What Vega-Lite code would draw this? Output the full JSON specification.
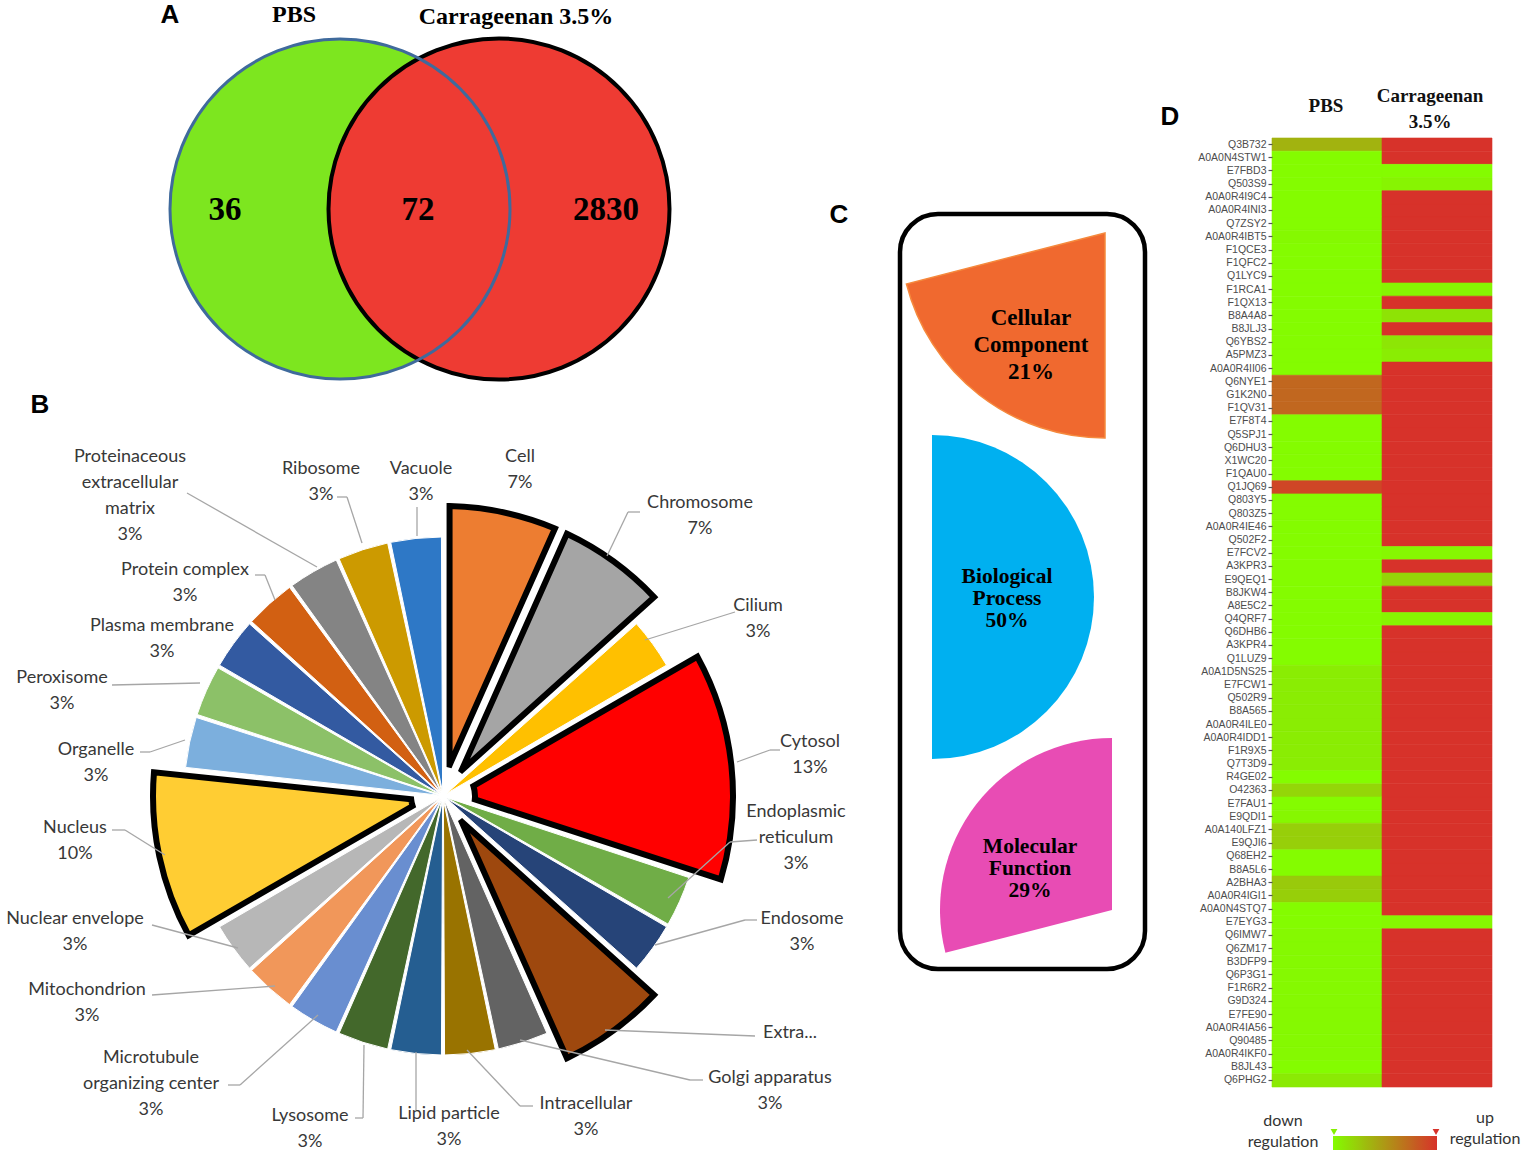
{
  "$schema": "https://vega.github.io/schema/vega-lite/v6.json",
  "padding": 0,
  "background": "white",
  "spacing": 0,
  "bounds": "flush",
  "config": {"view": {"stroke": null}},
  "resolve": {"scale": {"color": "independent"}, "legend": {"color": "independent"}},
  "hconcat": [
    {
      "width": 886,
      "height": 1161,
      "layer": [
        {
          "data": {"values": [{"set": "PBS", "x": 340, "y": 209}]},
          "mark": {"type": "point", "shape": "circle", "size": 115600, "filled": true, "fill": "#7de61f", "strokeWidth": 0, "opacity": 1},
          "encoding": {
            "x": {"field": "x", "type": "quantitative", "scale": {"domain": [0, 886], "nice": false, "zero": false}, "axis": null},
            "y": {"field": "y", "type": "quantitative", "scale": {"domain": [0, 1161], "nice": false, "zero": false, "reverse": true}, "axis": null}
          }
        },
        {
          "data": {"values": [{"set": "Carrageenan 3.5%", "x": 499, "y": 209}]},
          "mark": {"type": "point", "shape": "circle", "size": 116281, "filled": true, "fill": "#ee3b33", "stroke": "#000000", "strokeWidth": 4, "opacity": 1},
          "encoding": {
            "x": {"field": "x", "type": "quantitative"},
            "y": {"field": "y", "type": "quantitative"}
          }
        },
        {
          "data": {"values": [{"set": "PBS", "x": 340, "y": 209}]},
          "mark": {"type": "point", "shape": "circle", "size": 115600, "filled": false, "fillOpacity": 0, "stroke": "#3f6a9c", "strokeWidth": 3, "opacity": 1},
          "encoding": {
            "x": {"field": "x", "type": "quantitative"},
            "y": {"field": "y", "type": "quantitative"}
          }
        },
        {
          "data": {"values": [
            {"region": "PBS only", "n": 36, "x": 225, "y": 210},
            {"region": "Both", "n": 72, "x": 418, "y": 210},
            {"region": "Carrageenan 3.5% only", "n": 2830, "x": 606, "y": 210}
          ]},
          "mark": {"type": "text", "font": "Liberation Serif", "fontWeight": "bold", "fontSize": 33, "align": "center", "baseline": "middle", "color": "#000000"},
          "encoding": {
            "x": {"field": "x", "type": "quantitative"},
            "y": {"field": "y", "type": "quantitative"},
            "text": {"field": "n", "type": "quantitative", "format": "d"}
          }
        },
        {
          "data": {"values": [
            {"t": "PBS", "x": 294, "y": 15},
            {"t": "Carrageenan  3.5%", "x": 516, "y": 17}
          ]},
          "mark": {"type": "text", "font": "Liberation Serif", "fontWeight": "bold", "fontSize": 24, "align": "center", "baseline": "middle", "color": "#000000"},
          "encoding": {
            "x": {"field": "x", "type": "quantitative"},
            "y": {"field": "y", "type": "quantitative"},
            "text": {"field": "t", "type": "nominal"}
          }
        },
        {
          "data": {"values": [
            {"t": "A", "x": 170, "y": 15},
            {"t": "B", "x": 40, "y": 405}
          ]},
          "mark": {"type": "text", "font": "Liberation Sans", "fontWeight": "bold", "fontSize": 26, "align": "center", "baseline": "middle", "color": "#000000"},
          "encoding": {
            "x": {"field": "x", "type": "quantitative"},
            "y": {"field": "y", "type": "quantitative"},
            "text": {"field": "t", "type": "nominal"}
          }
        },
        {
          "data": {"name": "pie", "values": [
            {"order": 1, "category": "Cell", "count": 2, "exploded": true},
            {"order": 2, "category": "Chromosome", "count": 2, "exploded": true},
            {"order": 3, "category": "Cilium", "count": 1, "exploded": false},
            {"order": 4, "category": "Cytosol", "count": 4, "exploded": true},
            {"order": 5, "category": "Endoplasmic reticulum", "count": 1, "exploded": false},
            {"order": 6, "category": "Endosome", "count": 1, "exploded": false},
            {"order": 7, "category": "Extra...", "count": 2, "exploded": true},
            {"order": 8, "category": "Golgi apparatus", "count": 1, "exploded": false},
            {"order": 9, "category": "Intracellular", "count": 1, "exploded": false},
            {"order": 10, "category": "Lipid particle", "count": 1, "exploded": false},
            {"order": 11, "category": "Lysosome", "count": 1, "exploded": false},
            {"order": 12, "category": "Microtubule organizing center", "count": 1, "exploded": false},
            {"order": 13, "category": "Mitochondrion", "count": 1, "exploded": false},
            {"order": 14, "category": "Nuclear envelope", "count": 1, "exploded": false},
            {"order": 15, "category": "Nucleus", "count": 3, "exploded": true},
            {"order": 16, "category": "Organelle", "count": 1, "exploded": false},
            {"order": 17, "category": "Peroxisome", "count": 1, "exploded": false},
            {"order": 18, "category": "Plasma membrane", "count": 1, "exploded": false},
            {"order": 19, "category": "Protein complex", "count": 1, "exploded": false},
            {"order": 20, "category": "Proteinaceous extracellular matrix", "count": 1, "exploded": false},
            {"order": 21, "category": "Ribosome", "count": 1, "exploded": false},
            {"order": 22, "category": "Vacuole", "count": 1, "exploded": false}
          ]},
          "transform": [
            {"stack": "count", "groupby": [], "sort": [{"field": "order", "order": "ascending"}], "as": ["a0", "a1"]}
          ],
          "layer": [
            {
              "transform": [{"filter": "!datum.exploded"}],
              "mark": {"type": "arc", "radius": 259, "radius2": 4, "padAngle": 0.012, "stroke": "#ffffff", "strokeWidth": 1},
              "encoding": {
                "x": {"datum": 443, "type": "quantitative", "stack": null},
                "y": {"datum": 796, "type": "quantitative", "stack": null},
                "theta": {"field": "a0", "type": "quantitative", "stack": null, "scale": {"domain": [0, 30], "range": [0, 6.283185307]}},
                "theta2": {"field": "a1"},
                "color": {"field": "category", "type": "nominal", "legend": null, "scale": {
                  "domain": ["Cell", "Chromosome", "Cilium", "Cytosol", "Endoplasmic reticulum", "Endosome", "Extra...", "Golgi apparatus", "Intracellular", "Lipid particle", "Lysosome", "Microtubule organizing center", "Mitochondrion", "Nuclear envelope", "Nucleus", "Organelle", "Peroxisome", "Plasma membrane", "Protein complex", "Proteinaceous extracellular matrix", "Ribosome", "Vacuole"],
                  "range": ["#ed7d31", "#a5a5a5", "#ffc000", "#ff0000", "#70ad47", "#264478", "#9e480e", "#636363", "#997300", "#255e91", "#43682b", "#698ed0", "#f1975a", "#b7b7b7", "#ffcd33", "#7cafdd", "#8cc168", "#335aa1", "#d26012", "#848484", "#cc9a00", "#2e78c6"]
                }}
              }
            },
            {
              "transform": [{"filter": "datum.exploded"}],
              "mark": {"type": "arc", "radius": 290, "radius2": 32, "padAngle": 0.045, "stroke": "#000000", "strokeWidth": 6, "strokeJoin": "miter"},
              "encoding": {
                "x": {"datum": 443, "type": "quantitative", "stack": null},
                "y": {"datum": 796, "type": "quantitative", "stack": null},
                "theta": {"field": "a0", "type": "quantitative", "stack": null, "scale": {"domain": [0, 30], "range": [0, 6.283185307]}},
                "theta2": {"field": "a1"},
                "color": {"field": "category", "type": "nominal", "legend": null}
              }
            }
          ]
        },
        {
          "data": {"values": [
            {"x": 187, "y": 493, "x2": 317, "y2": 567},
            {"x": 337, "y": 497, "x2": 347, "y2": 497},
            {"x": 347, "y": 497, "x2": 362, "y2": 543},
            {"x": 417, "y": 507, "x2": 417, "y2": 536},
            {"x": 640, "y": 512, "x2": 628, "y2": 512},
            {"x": 628, "y": 512, "x2": 607, "y2": 556},
            {"x": 735, "y": 612, "x2": 645, "y2": 640},
            {"x": 780, "y": 750, "x2": 770, "y2": 750},
            {"x": 770, "y": 750, "x2": 737, "y2": 762},
            {"x": 757, "y": 840, "x2": 730, "y2": 842},
            {"x": 730, "y": 842, "x2": 668, "y2": 898},
            {"x": 757, "y": 920, "x2": 745, "y2": 920},
            {"x": 745, "y": 920, "x2": 655, "y2": 945},
            {"x": 755, "y": 1036, "x2": 605, "y2": 1030},
            {"x": 703, "y": 1080, "x2": 690, "y2": 1080},
            {"x": 690, "y": 1080, "x2": 520, "y2": 1040},
            {"x": 533, "y": 1106, "x2": 520, "y2": 1106},
            {"x": 520, "y": 1106, "x2": 467, "y2": 1050},
            {"x": 416, "y": 1110, "x2": 416, "y2": 1052},
            {"x": 355, "y": 1118, "x2": 363, "y2": 1118},
            {"x": 363, "y": 1118, "x2": 364, "y2": 1045},
            {"x": 228, "y": 1085, "x2": 240, "y2": 1085},
            {"x": 240, "y": 1085, "x2": 318, "y2": 1015},
            {"x": 152, "y": 995, "x2": 275, "y2": 986},
            {"x": 152, "y": 925, "x2": 238, "y2": 948},
            {"x": 112, "y": 830, "x2": 125, "y2": 830},
            {"x": 125, "y": 830, "x2": 165, "y2": 855},
            {"x": 140, "y": 752, "x2": 150, "y2": 752},
            {"x": 150, "y": 752, "x2": 185, "y2": 740},
            {"x": 112, "y": 685, "x2": 200, "y2": 683},
            {"x": 255, "y": 575, "x2": 265, "y2": 575},
            {"x": 265, "y": 575, "x2": 275, "y2": 600}
          ]},
          "mark": {"type": "rule", "color": "#a6a6a6", "strokeWidth": 1.3},
          "encoding": {
            "x": {"field": "x", "type": "quantitative"},
            "y": {"field": "y", "type": "quantitative"},
            "x2": {"field": "x2"},
            "y2": {"field": "y2"}
          }
        },
        {
          "data": {"values": [
            {"t": "Proteinaceous\nextracellular\nmatrix\n3%", "x": 130, "y": 457},
            {"t": "Ribosome\n3%", "x": 321, "y": 469},
            {"t": "Vacuole\n3%", "x": 421, "y": 469},
            {"t": "Cell\n7%", "x": 520, "y": 457},
            {"t": "Chromosome\n7%", "x": 700, "y": 503},
            {"t": "Cilium\n3%", "x": 758, "y": 606},
            {"t": "Cytosol\n13%", "x": 810, "y": 742},
            {"t": "Endoplasmic\nreticulum\n3%", "x": 796, "y": 812},
            {"t": "Endosome\n3%", "x": 802, "y": 919},
            {"t": "Extra...", "x": 790, "y": 1033},
            {"t": "Golgi apparatus\n3%", "x": 770, "y": 1078},
            {"t": "Intracellular\n3%", "x": 586, "y": 1104},
            {"t": "Lipid particle\n3%", "x": 449, "y": 1114},
            {"t": "Lysosome\n3%", "x": 310, "y": 1116},
            {"t": "Microtubule\norganizing center\n3%", "x": 151, "y": 1058},
            {"t": "Mitochondrion\n3%", "x": 87, "y": 990},
            {"t": "Nuclear envelope\n3%", "x": 75, "y": 919},
            {"t": "Nucleus\n10%", "x": 75, "y": 828},
            {"t": "Organelle\n3%", "x": 96, "y": 750},
            {"t": "Peroxisome\n3%", "x": 62, "y": 678},
            {"t": "Plasma membrane\n3%", "x": 162, "y": 626},
            {"t": "Protein complex\n3%", "x": 185, "y": 570}
          ]},
          "mark": {"type": "text", "font": "Lato", "fontSize": 18, "lineHeight": 26, "lineBreak": "\n", "align": "center", "baseline": "middle", "color": "#383838"},
          "encoding": {
            "x": {"field": "x", "type": "quantitative"},
            "y": {"field": "y", "type": "quantitative"},
            "text": {"field": "t", "type": "nominal"}
          }
        }
      ]
    },
    {
      "width": 386,
      "height": 1161,
      "layer": [
        {
          "data": {"values": [{"x": 900, "x2": 1145, "y": 214, "y2": 969}]},
          "mark": {"type": "rect", "filled": false, "stroke": "#000000", "strokeWidth": 4.5, "cornerRadius": 38},
          "encoding": {
            "x": {"field": "x", "type": "quantitative", "scale": {"domain": [886, 1272], "nice": false, "zero": false}, "axis": null},
            "x2": {"field": "x2"},
            "y": {"field": "y", "type": "quantitative", "scale": {"domain": [0, 1161], "nice": false, "zero": false, "reverse": true}, "axis": null},
            "y2": {"field": "y2"}
          }
        },
        {
          "data": {"values": [{"term": "Cellular Component", "pct": 21, "start": 180, "x": 1105, "y": 233}]},
          "transform": [{"calculate": "datum.start + datum.pct * 3.6", "as": "end"}],
          "mark": {"type": "arc", "radius": 205, "fill": "#f0692f", "stroke": "#f5893d", "strokeWidth": 1.5},
          "encoding": {
            "x": {"field": "x", "type": "quantitative"},
            "y": {"field": "y", "type": "quantitative"},
            "theta": {"field": "start", "type": "quantitative", "stack": null, "scale": {"domain": [0, 360], "range": [0, 6.283185307]}},
            "theta2": {"field": "end"}
          }
        },
        {
          "data": {"values": [{"term": "Biological Process", "pct": 50, "start": 0, "x": 932, "y": 597}]},
          "transform": [{"calculate": "datum.start + datum.pct * 3.6", "as": "end"}],
          "mark": {"type": "arc", "radius": 162, "fill": "#00b0f0"},
          "encoding": {
            "x": {"field": "x", "type": "quantitative"},
            "y": {"field": "y", "type": "quantitative"},
            "theta": {"field": "start", "type": "quantitative", "stack": null, "scale": {"domain": [0, 360], "range": [0, 6.283185307]}},
            "theta2": {"field": "end"}
          }
        },
        {
          "data": {"values": [{"term": "Molecular Function", "pct": 29, "end": 360, "x": 1112, "y": 910}]},
          "transform": [{"calculate": "datum.end - datum.pct * 3.6", "as": "start"}],
          "mark": {"type": "arc", "radius": 172, "fill": "#e84cb4"},
          "encoding": {
            "x": {"field": "x", "type": "quantitative"},
            "y": {"field": "y", "type": "quantitative"},
            "theta": {"field": "start", "type": "quantitative", "stack": null, "scale": {"domain": [0, 360], "range": [0, 6.283185307]}},
            "theta2": {"field": "end"}
          }
        },
        {
          "data": {"values": [{"t": "Cellular\nComponent\n21%", "x": 1031, "y": 318}]},
          "mark": {"type": "text", "font": "Liberation Serif", "fontWeight": "bold", "fontSize": 23, "lineHeight": 27, "lineBreak": "\n", "align": "center", "baseline": "middle", "color": "#000000"},
          "encoding": {
            "x": {"field": "x", "type": "quantitative"},
            "y": {"field": "y", "type": "quantitative"},
            "text": {"field": "t", "type": "nominal"}
          }
        },
        {
          "data": {"values": [
            {"t": "Biological\nProcess\n50%", "x": 1007, "y": 577},
            {"t": "Molecular\nFunction\n29%", "x": 1030, "y": 847}
          ]},
          "mark": {"type": "text", "font": "Liberation Serif", "fontWeight": "bold", "fontSize": 21.5, "lineHeight": 22, "lineBreak": "\n", "align": "center", "baseline": "middle", "color": "#000000"},
          "encoding": {
            "x": {"field": "x", "type": "quantitative"},
            "y": {"field": "y", "type": "quantitative"},
            "text": {"field": "t", "type": "nominal"}
          }
        },
        {
          "data": {"values": [
            {"t": "C", "x": 839, "y": 215},
            {"t": "D", "x": 1170, "y": 117}
          ]},
          "mark": {"type": "text", "font": "Liberation Sans", "fontWeight": "bold", "fontSize": 26, "align": "center", "baseline": "middle", "color": "#000000"},
          "encoding": {
            "x": {"field": "x", "type": "quantitative"},
            "y": {"field": "y", "type": "quantitative"},
            "text": {"field": "t", "type": "nominal"}
          }
        },
        {
          "data": {"values": [
            {"t": "PBS", "x": 1326, "y": 106},
            {"t": "Carrageenan\n3.5%", "x": 1430, "y": 96}
          ]},
          "mark": {"type": "text", "font": "Liberation Serif", "fontWeight": "bold", "fontSize": 19, "lineHeight": 26, "lineBreak": "\n", "align": "center", "baseline": "middle", "color": "#111111"},
          "encoding": {
            "x": {"field": "x", "type": "quantitative"},
            "y": {"field": "y", "type": "quantitative"},
            "text": {"field": "t", "type": "nominal"}
          }
        },
        {
          "data": {"values": [
            {"t": "down\nregulation", "x": 1283, "y": 1121},
            {"t": "up\nregulation", "x": 1485, "y": 1118}
          ]},
          "mark": {"type": "text", "font": "Lato", "fontSize": 16, "lineHeight": 21, "lineBreak": "\n", "align": "center", "baseline": "middle", "color": "#333333"},
          "encoding": {
            "x": {"field": "x", "type": "quantitative"},
            "y": {"field": "y", "type": "quantitative"},
            "text": {"field": "t", "type": "nominal"}
          }
        },
        {
          "data": {"values": [
            {"end": "down", "x": 1334, "y": 1132},
            {"end": "up", "x": 1436, "y": 1132}
          ]},
          "mark": {"type": "point", "shape": "triangle-down", "size": 45, "filled": true, "opacity": 1, "strokeWidth": 0},
          "encoding": {
            "x": {"field": "x", "type": "quantitative"},
            "y": {"field": "y", "type": "quantitative"},
            "fill": {"field": "end", "type": "nominal", "scale": {"domain": ["down", "up"], "range": ["#84f000", "#d7322a"]}, "legend": null}
          }
        }
      ]
    },
    {
      "spacing": 0,
      "bounds": "flush",
      "vconcat": [
        {
          "width": 220,
          "height": 138,
          "data": {"values": [{"t": ""}]},
          "mark": {"type": "text"},
          "encoding": {"text": {"field": "t", "type": "nominal"}}
        },
        {
          "width": 220,
          "height": 949,
          "data": {"values": [
            {"protein": "Q3B732", "sample": "PBS", "expr": -0.28}, {"protein": "Q3B732", "sample": "Carrageenan 3.5%", "expr": 1},
            {"protein": "A0A0N4STW1", "sample": "PBS", "expr": -1}, {"protein": "A0A0N4STW1", "sample": "Carrageenan 3.5%", "expr": 1},
            {"protein": "E7FBD3", "sample": "PBS", "expr": -1}, {"protein": "E7FBD3", "sample": "Carrageenan 3.5%", "expr": -1},
            {"protein": "Q503S9", "sample": "PBS", "expr": -1}, {"protein": "Q503S9", "sample": "Carrageenan 3.5%", "expr": -0.92},
            {"protein": "A0A0R4I9C4", "sample": "PBS", "expr": -1}, {"protein": "A0A0R4I9C4", "sample": "Carrageenan 3.5%", "expr": 1},
            {"protein": "A0A0R4INI3", "sample": "PBS", "expr": -1}, {"protein": "A0A0R4INI3", "sample": "Carrageenan 3.5%", "expr": 1},
            {"protein": "Q7ZSY2", "sample": "PBS", "expr": -1}, {"protein": "Q7ZSY2", "sample": "Carrageenan 3.5%", "expr": 1},
            {"protein": "A0A0R4IBT5", "sample": "PBS", "expr": -0.97}, {"protein": "A0A0R4IBT5", "sample": "Carrageenan 3.5%", "expr": 1},
            {"protein": "F1QCE3", "sample": "PBS", "expr": -1}, {"protein": "F1QCE3", "sample": "Carrageenan 3.5%", "expr": 1},
            {"protein": "F1QFC2", "sample": "PBS", "expr": -1}, {"protein": "F1QFC2", "sample": "Carrageenan 3.5%", "expr": 1},
            {"protein": "Q1LYC9", "sample": "PBS", "expr": -1}, {"protein": "Q1LYC9", "sample": "Carrageenan 3.5%", "expr": 1},
            {"protein": "F1RCA1", "sample": "PBS", "expr": -1}, {"protein": "F1RCA1", "sample": "Carrageenan 3.5%", "expr": -0.92},
            {"protein": "F1QX13", "sample": "PBS", "expr": -1}, {"protein": "F1QX13", "sample": "Carrageenan 3.5%", "expr": 1},
            {"protein": "B8A4A8", "sample": "PBS", "expr": -1}, {"protein": "B8A4A8", "sample": "Carrageenan 3.5%", "expr": -0.75},
            {"protein": "B8JLJ3", "sample": "PBS", "expr": -1}, {"protein": "B8JLJ3", "sample": "Carrageenan 3.5%", "expr": 1},
            {"protein": "Q6YBS2", "sample": "PBS", "expr": -1}, {"protein": "Q6YBS2", "sample": "Carrageenan 3.5%", "expr": -0.78},
            {"protein": "A5PMZ3", "sample": "PBS", "expr": -1}, {"protein": "A5PMZ3", "sample": "Carrageenan 3.5%", "expr": -0.85},
            {"protein": "A0A0R4II06", "sample": "PBS", "expr": -1}, {"protein": "A0A0R4II06", "sample": "Carrageenan 3.5%", "expr": 1},
            {"protein": "Q6NYE1", "sample": "PBS", "expr": 0.48}, {"protein": "Q6NYE1", "sample": "Carrageenan 3.5%", "expr": 1},
            {"protein": "G1K2N0", "sample": "PBS", "expr": 0.48}, {"protein": "G1K2N0", "sample": "Carrageenan 3.5%", "expr": 1},
            {"protein": "F1QV31", "sample": "PBS", "expr": 0.48}, {"protein": "F1QV31", "sample": "Carrageenan 3.5%", "expr": 1},
            {"protein": "E7F8T4", "sample": "PBS", "expr": -1}, {"protein": "E7F8T4", "sample": "Carrageenan 3.5%", "expr": 1},
            {"protein": "Q5SPJ1", "sample": "PBS", "expr": -1}, {"protein": "Q5SPJ1", "sample": "Carrageenan 3.5%", "expr": 1},
            {"protein": "Q6DHU3", "sample": "PBS", "expr": -1}, {"protein": "Q6DHU3", "sample": "Carrageenan 3.5%", "expr": 1},
            {"protein": "X1WC20", "sample": "PBS", "expr": -1}, {"protein": "X1WC20", "sample": "Carrageenan 3.5%", "expr": 1},
            {"protein": "F1QAU0", "sample": "PBS", "expr": -1}, {"protein": "F1QAU0", "sample": "Carrageenan 3.5%", "expr": 1},
            {"protein": "Q1JQ69", "sample": "PBS", "expr": 0.8}, {"protein": "Q1JQ69", "sample": "Carrageenan 3.5%", "expr": 1},
            {"protein": "Q803Y5", "sample": "PBS", "expr": -1}, {"protein": "Q803Y5", "sample": "Carrageenan 3.5%", "expr": 1},
            {"protein": "Q803Z5", "sample": "PBS", "expr": -1}, {"protein": "Q803Z5", "sample": "Carrageenan 3.5%", "expr": 1},
            {"protein": "A0A0R4IE46", "sample": "PBS", "expr": -1}, {"protein": "A0A0R4IE46", "sample": "Carrageenan 3.5%", "expr": 1},
            {"protein": "Q502F2", "sample": "PBS", "expr": -1}, {"protein": "Q502F2", "sample": "Carrageenan 3.5%", "expr": 1},
            {"protein": "E7FCV2", "sample": "PBS", "expr": -1}, {"protein": "E7FCV2", "sample": "Carrageenan 3.5%", "expr": -0.95},
            {"protein": "A3KPR3", "sample": "PBS", "expr": -1}, {"protein": "A3KPR3", "sample": "Carrageenan 3.5%", "expr": 1},
            {"protein": "E9QEQ1", "sample": "PBS", "expr": -1}, {"protein": "E9QEQ1", "sample": "Carrageenan 3.5%", "expr": -0.6},
            {"protein": "B8JKW4", "sample": "PBS", "expr": -1}, {"protein": "B8JKW4", "sample": "Carrageenan 3.5%", "expr": 1},
            {"protein": "A8E5C2", "sample": "PBS", "expr": -1}, {"protein": "A8E5C2", "sample": "Carrageenan 3.5%", "expr": 1},
            {"protein": "Q4QRF7", "sample": "PBS", "expr": -1}, {"protein": "Q4QRF7", "sample": "Carrageenan 3.5%", "expr": -0.92},
            {"protein": "Q6DHB6", "sample": "PBS", "expr": -1}, {"protein": "Q6DHB6", "sample": "Carrageenan 3.5%", "expr": 1},
            {"protein": "A3KPR4", "sample": "PBS", "expr": -1}, {"protein": "A3KPR4", "sample": "Carrageenan 3.5%", "expr": 1},
            {"protein": "Q1LUZ9", "sample": "PBS", "expr": -1}, {"protein": "Q1LUZ9", "sample": "Carrageenan 3.5%", "expr": 1},
            {"protein": "A0A1D5NS25", "sample": "PBS", "expr": -0.85}, {"protein": "A0A1D5NS25", "sample": "Carrageenan 3.5%", "expr": 1},
            {"protein": "E7FCW1", "sample": "PBS", "expr": -0.85}, {"protein": "E7FCW1", "sample": "Carrageenan 3.5%", "expr": 1},
            {"protein": "Q502R9", "sample": "PBS", "expr": -0.85}, {"protein": "Q502R9", "sample": "Carrageenan 3.5%", "expr": 1},
            {"protein": "B8A565", "sample": "PBS", "expr": -0.85}, {"protein": "B8A565", "sample": "Carrageenan 3.5%", "expr": 1},
            {"protein": "A0A0R4ILE0", "sample": "PBS", "expr": -0.85}, {"protein": "A0A0R4ILE0", "sample": "Carrageenan 3.5%", "expr": 1},
            {"protein": "A0A0R4IDD1", "sample": "PBS", "expr": -0.85}, {"protein": "A0A0R4IDD1", "sample": "Carrageenan 3.5%", "expr": 1},
            {"protein": "F1R9X5", "sample": "PBS", "expr": -0.85}, {"protein": "F1R9X5", "sample": "Carrageenan 3.5%", "expr": 1},
            {"protein": "Q7T3D9", "sample": "PBS", "expr": -0.85}, {"protein": "Q7T3D9", "sample": "Carrageenan 3.5%", "expr": 1},
            {"protein": "R4GE02", "sample": "PBS", "expr": -1}, {"protein": "R4GE02", "sample": "Carrageenan 3.5%", "expr": 1},
            {"protein": "O42363", "sample": "PBS", "expr": -0.62}, {"protein": "O42363", "sample": "Carrageenan 3.5%", "expr": 1},
            {"protein": "E7FAU1", "sample": "PBS", "expr": -1}, {"protein": "E7FAU1", "sample": "Carrageenan 3.5%", "expr": 1},
            {"protein": "E9QDI1", "sample": "PBS", "expr": -0.95}, {"protein": "E9QDI1", "sample": "Carrageenan 3.5%", "expr": 1},
            {"protein": "A0A140LFZ1", "sample": "PBS", "expr": -0.55}, {"protein": "A0A140LFZ1", "sample": "Carrageenan 3.5%", "expr": 1},
            {"protein": "E9QJI6", "sample": "PBS", "expr": -0.55}, {"protein": "E9QJI6", "sample": "Carrageenan 3.5%", "expr": 1},
            {"protein": "Q68EH2", "sample": "PBS", "expr": -1}, {"protein": "Q68EH2", "sample": "Carrageenan 3.5%", "expr": 1},
            {"protein": "B8A5L6", "sample": "PBS", "expr": -1}, {"protein": "B8A5L6", "sample": "Carrageenan 3.5%", "expr": 1},
            {"protein": "A2BHA3", "sample": "PBS", "expr": -0.5}, {"protein": "A2BHA3", "sample": "Carrageenan 3.5%", "expr": 1},
            {"protein": "A0A0R4IGI1", "sample": "PBS", "expr": -0.55}, {"protein": "A0A0R4IGI1", "sample": "Carrageenan 3.5%", "expr": 1},
            {"protein": "A0A0N4STQ7", "sample": "PBS", "expr": -1}, {"protein": "A0A0N4STQ7", "sample": "Carrageenan 3.5%", "expr": 1},
            {"protein": "E7EYG3", "sample": "PBS", "expr": -1}, {"protein": "E7EYG3", "sample": "Carrageenan 3.5%", "expr": -0.95},
            {"protein": "Q6IMW7", "sample": "PBS", "expr": -0.97}, {"protein": "Q6IMW7", "sample": "Carrageenan 3.5%", "expr": 1},
            {"protein": "Q6ZM17", "sample": "PBS", "expr": -0.97}, {"protein": "Q6ZM17", "sample": "Carrageenan 3.5%", "expr": 1},
            {"protein": "B3DFP9", "sample": "PBS", "expr": -0.97}, {"protein": "B3DFP9", "sample": "Carrageenan 3.5%", "expr": 1},
            {"protein": "Q6P3G1", "sample": "PBS", "expr": -0.97}, {"protein": "Q6P3G1", "sample": "Carrageenan 3.5%", "expr": 1},
            {"protein": "F1R6R2", "sample": "PBS", "expr": -0.97}, {"protein": "F1R6R2", "sample": "Carrageenan 3.5%", "expr": 1},
            {"protein": "G9D324", "sample": "PBS", "expr": -0.97}, {"protein": "G9D324", "sample": "Carrageenan 3.5%", "expr": 1},
            {"protein": "E7FE90", "sample": "PBS", "expr": -0.97}, {"protein": "E7FE90", "sample": "Carrageenan 3.5%", "expr": 1},
            {"protein": "A0A0R4IA56", "sample": "PBS", "expr": -0.97}, {"protein": "A0A0R4IA56", "sample": "Carrageenan 3.5%", "expr": 1},
            {"protein": "Q90485", "sample": "PBS", "expr": -0.97}, {"protein": "Q90485", "sample": "Carrageenan 3.5%", "expr": 1},
            {"protein": "A0A0R4IKF0", "sample": "PBS", "expr": -0.97}, {"protein": "A0A0R4IKF0", "sample": "Carrageenan 3.5%", "expr": 1},
            {"protein": "B8JL43", "sample": "PBS", "expr": -1}, {"protein": "B8JL43", "sample": "Carrageenan 3.5%", "expr": 1},
            {"protein": "Q6PHG2", "sample": "PBS", "expr": -0.82}, {"protein": "Q6PHG2", "sample": "Carrageenan 3.5%", "expr": 1}
          ]},
          "mark": {"type": "rect", "strokeWidth": 0.6},
          "encoding": {
            "x": {"field": "sample", "type": "nominal", "sort": ["PBS", "Carrageenan 3.5%"], "scale": {"paddingInner": 0, "paddingOuter": 0}, "axis": null},
            "y": {"field": "protein", "type": "nominal", "sort": null, "scale": {"paddingInner": 0, "paddingOuter": 0},
              "axis": {"title": null, "domain": false, "labelFont": "Liberation Sans", "labelFontSize": 10.5, "labelColor": "#4d4d4d", "tickSize": 4, "tickColor": "#555555", "tickWidth": 1.2, "labelPadding": 2, "labelOverlap": false}},
            "color": {"field": "expr", "type": "quantitative", "scale": {"domain": [-1, 1], "range": ["#84fc00", "#d7322a"], "interpolate": "rgb"},
              "legend": {"orient": "none", "legendX": 61, "legendY": 1136, "direction": "horizontal", "gradientLength": 104, "gradientThickness": 14, "labelOpacity": 0, "labelFontSize": 1, "title": null, "gradientStrokeWidth": 0, "gradientOpacity": 1}},
            "stroke": {"field": "expr", "type": "quantitative", "scale": {"domain": [-1, 1], "range": ["#84fc00", "#d7322a"], "interpolate": "rgb"}, "legend": null}
          }
        }
      ]
    }
  ]
}
